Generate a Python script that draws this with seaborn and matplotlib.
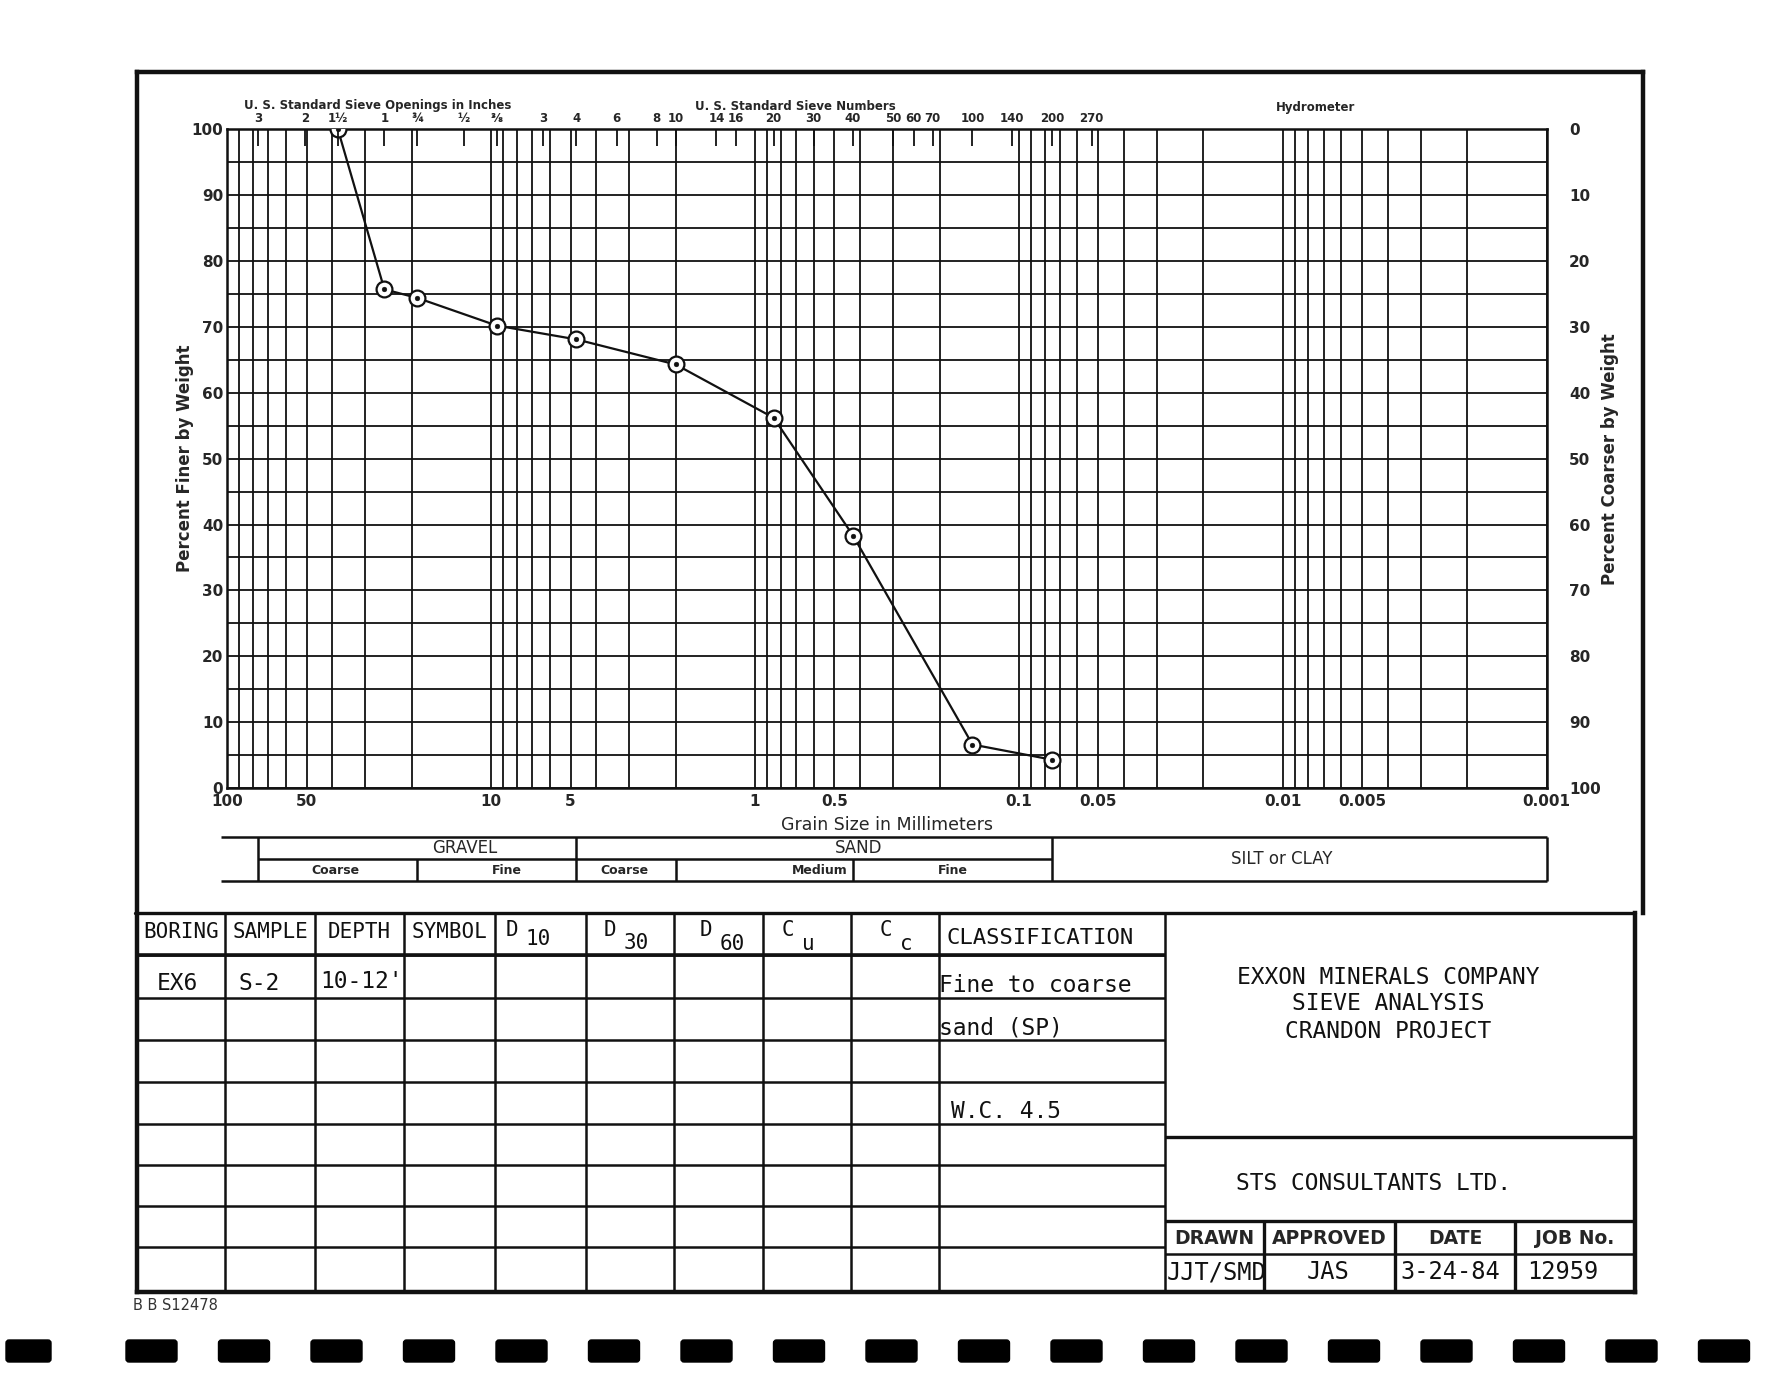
"""
Curva granulométrica (sieve analysis) — Exxon Minerals / Crandon Project.
Recria a folha de ensaio do STS Consultants com o quadro e a tabela.
"""

import matplotlib

matplotlib.use("Agg")

import matplotlib.pyplot as plt
import pandas as pd
import seaborn as sns
from matplotlib.patches import FancyBboxPatch
from matplotlib.ticker import LogLocator, NullFormatter, NullLocator

# ---- dados da curva (abertura em mm x % passante) ----
abertura_mm = [38.1, 25.4, 19.05, 9.525, 4.75, 2.0, 0.85, 0.425, 0.15, 0.075]
pct_passante = [100.0, 75.7, 74.4, 70.2, 68.1, 64.3, 56.2, 38.3, 6.6, 4.3]

# ---- eixos ----
x_ticks_mm = [100, 50, 10, 5, 1, 0.5, 0.1, 0.05, 0.01, 0.005, 0.001]
x_ticks_lbl = ["100", "50", "10", "5", "1", "0.5", "0.1", "0.05", "0.01", "0.005", "0.001"]
y_ticks = list(range(0, 101, 10))

peneiras_pol = ["3", "2", "1½", "1", "¾", "½", "⅜"]
peneiras_pol_mm = [76.2, 50.8, 38.1, 25.4, 19.05, 12.7, 9.525]
peneiras_num = ["3", "4", "6", "8", "10", "14", "16", "20", "30", "40",
                "50", "60", "70", "100", "140", "200", "270"]
peneiras_num_mm = [6.35, 4.75, 3.35, 2.36, 2.0, 1.4, 1.18, 0.85, 0.6, 0.425,
                   0.3, 0.25, 0.212, 0.15, 0.106, 0.075, 0.053]

# ---- faixa de classificação ----
faixa_lim_mm = [76.2, 19.05, 4.75, 2.0, 0.425, 0.075, 0.001]
faixa_principal = ["GRAVEL", "SAND", "SILT or CLAY"]
faixa_principal_mm = [12.6, 0.405, 0.0101]
faixa_sub = ["Coarse", "Fine", "Coarse", "Medium", "Fine"]
faixa_sub_mm = [38.8, 8.7, 3.12, 0.568, 0.178]

# ---- tabela ----
cabecalho = ["BORING", "SAMPLE", "DEPTH", "SYMBOL"]
amostra = ["EX6", "S-2", "10-12'"]
classificacao = ["Fine to coarse", "sand (SP)", "", "W.C. 4.5"]
titulo_folha = ["EXXON MINERALS COMPANY", "SIEVE ANALYSIS", "CRANDON PROJECT"]
consultor = "STS CONSULTANTS LTD."
carimbo_cab = ["DRAWN", "APPROVED", "DATE", "JOB No."]
carimbo_val = ["JJT/SMD", "JAS", "3-24-84", "12959"]

W, H = 1791, 1380
PRETO = "#111111"
FONTE_MONO = ["DejaVu Sans Mono"]


def caixa(x0, y0, x1, y1):
    """Retângulo em pixels (origem no topo) -> coordenadas da figura."""
    return [x0 / W, 1 - y1 / H, (x1 - x0) / W, (y1 - y0) / H]


sns.set_theme(style="white")
plt.rcParams["font.family"] = ["DejaVu Sans"]

fig = plt.figure(figsize=(W / 100, H / 100), dpi=100)
fig.patch.set_facecolor("white")

# folha (quadro, tabela, textos fixos) em pixels
pg = fig.add_axes([0, 0, 1, 1])
pg.set_xlim(0, W)
pg.set_ylim(H, 0)
pg.axis("off")

# ---- gráfico ----
ax = fig.add_axes(caixa(227.3, 129.3, 1546.7, 788))
ax.set_xscale("log")
ax.set_xlim(100, 0.001)
ax.set_ylim(0, 100)

df = pd.DataFrame({"mm": abertura_mm, "pct": pct_passante})
sns.lineplot(data=df, x="mm", y="pct", ax=ax, color=PRETO, lw=1.6, zorder=3)
sns.scatterplot(data=df, x="mm", y="pct", ax=ax, s=130, marker="o",
                facecolor="white", edgecolor=PRETO, linewidth=1.6, zorder=4)
sns.scatterplot(data=df, x="mm", y="pct", ax=ax, s=12, color=PRETO,
                edgecolor=PRETO, zorder=5)

ax.set_xticks(x_ticks_mm, labels=x_ticks_lbl)
ax.xaxis.set_minor_locator(LogLocator(base=10, subs=range(2, 10), numticks=100))
ax.xaxis.set_minor_formatter(NullFormatter())
ax.set_yticks(y_ticks)
ax.set_yticks(range(5, 100, 10), minor=True)
ax.grid(True, which="both", color=PRETO, lw=1.3)
ax.set_axisbelow(True)
ax.tick_params(which="both", length=0)
ax.tick_params(axis="x", pad=4, labelsize=11)
ax.tick_params(axis="y", pad=3, labelsize=11)
for t in ax.get_xticklabels() + ax.get_yticklabels():
    t.set_fontweight("bold")
ax.set_xlabel("")
ax.set_ylabel("Percent Finer by Weight", fontsize=12, fontweight="bold", labelpad=-2)
for s in ax.spines.values():
    s.set_color(PRETO)
    s.set_linewidth(1.8)

# peneiras no topo
ax_top = ax.twiny()
ax_top.set_xscale("log")
ax_top.set_xlim(100, 0.001)
ax_top.set_xticks(peneiras_pol_mm + peneiras_num_mm, labels=peneiras_pol + peneiras_num)
ax_top.xaxis.set_minor_locator(NullLocator())
ax_top.tick_params(axis="x", direction="in", length=12, width=1.3, color=PRETO,
                   pad=3, labelsize=8.5)
for t in ax_top.get_xticklabels():
    t.set_fontweight("bold")
ax_top.grid(False)

# escala da direita (% retido)
ax_r = ax.twinx()
ax_r.set_ylim(100, 0)
ax_r.set_yticks(y_ticks)
ax_r.tick_params(axis="y", length=0, pad=16, labelsize=11)
for t in ax_r.get_yticklabels():
    t.set_fontweight("bold")
ax_r.set_ylabel("Percent Coarser by Weight", fontsize=12, fontweight="bold", labelpad=0)
ax_r.grid(False)
for s in ax_r.spines.values():
    s.set_visible(False)
for s in ax_top.spines.values():
    s.set_visible(False)

pg.text(378, 106, "U. S. Standard Sieve Openings in Inches", ha="center", va="center",
        fontsize=8.5, fontweight="bold")
pg.text(795, 106, "U. S. Standard Sieve Numbers", ha="center", va="center",
        fontsize=8.5, fontweight="bold")
pg.text(1316, 107, "Hydrometer", ha="center", va="center", fontsize=8.5, fontweight="bold")
pg.text(887, 825, "Grain Size in Millimeters", ha="center", va="center", fontsize=12.5)

# ---- faixa GRAVEL / SAND / SILT ----
ax_b = fig.add_axes(caixa(227.3, 837, 1546.7, 881))
ax_b.set_xscale("log")
ax_b.set_xlim(100, 0.001)
ax_b.set_ylim(0, 2)
ax_b.axis("off")
kw = dict(color=PRETO, lw=1.8, clip_on=False)
ax_b.hlines([0, 2], 106, faixa_lim_mm[-1], **kw)
ax_b.hlines(1, faixa_lim_mm[0], faixa_lim_mm[-2], **kw)
ax_b.vlines([faixa_lim_mm[i] for i in (0, 2, 5, 6)], 0, 2, **kw)
ax_b.vlines([faixa_lim_mm[i] for i in (1, 3, 4)], 0, 1, **kw)
for nome, xm in zip(faixa_principal[:2], faixa_principal_mm[:2]):
    ax_b.text(xm, 1.5, nome, ha="center", va="center", fontsize=12)
ax_b.text(faixa_principal_mm[2], 1.0, faixa_principal[2], ha="center", va="center",
          fontsize=12)
for nome, xm in zip(faixa_sub, faixa_sub_mm):
    ax_b.text(xm, 0.48, nome, ha="center", va="center", fontsize=9, fontweight="bold")

# ---- quadro externo ----
moldura = dict(color=PRETO, lw=3.2, solid_capstyle="projecting")
pg.plot([137, 1643], [72, 72], **moldura)
pg.plot([137, 137], [72, 1292], **moldura)
pg.plot([1643, 1643], [72, 913], **moldura)
pg.plot([1635, 1635], [913, 1292], **moldura)
pg.plot([137, 1635], [1292, 1292], **moldura)
pg.plot([135, 1635], [913, 913], color=PRETO, lw=2.4)

# ---- tabela esquerda ----
col_x = [137, 225, 315, 404, 495, 586, 674, 763, 851, 939, 1165]
lin_y = [913, 955, 998, 1040, 1082, 1124, 1165, 1206, 1247, 1292]
pg.vlines(col_x[1:], 913, 1292, color=PRETO, lw=1.8)
pg.hlines(lin_y[1:-1], 137, 1165, color=PRETO, lw=1.8)
pg.hlines(lin_y[1], 137, 1165, color=PRETO, lw=2.6)

mono = dict(family=FONTE_MONO, color=PRETO)
for i, nome in enumerate(cabecalho):
    pg.text((col_x[i] + col_x[i + 1]) / 2, 932, nome, ha="center", va="center",
            fontsize=15, **mono)
# D10, D30, D60, Cu, Cc com índice rebaixado
for letra, indice, x0, dy in [("D", "10", 512, 9), ("D", "30", 610, 13),
                              ("D", "60", 706, 14), ("C", "u", 788, 14),
                              ("C", "c", 886, 14)]:
    pg.text(x0, 930, letra, ha="center", va="center", fontsize=15, **mono)
    pg.text(x0 + 14, 930 + dy, indice, ha="left", va="center", fontsize=15, **mono)
pg.text(947, 938, "CLASSIFICATION", ha="left", va="center", fontsize=16, **mono)

pg.text(177, 983, amostra[0], ha="center", va="center", fontsize=16.5, **mono)
pg.text(239, 983, amostra[1], ha="left", va="center", fontsize=16.5, **mono)
pg.text(320, 981, amostra[2], ha="left", va="center", fontsize=16.5, **mono)
for texto, yy in zip(classificacao, [985, 1028, 1069, 1112]):
    if texto:
        xx = 951 if texto.startswith("W") else 939
        pg.text(xx, yy, texto, ha="left", va="center", fontsize=16.5, **mono)

# ---- bloco da direita ----
pg.hlines([1137, 1221], 1165, 1635, color=PRETO, lw=2.4)
pg.hlines(1254, 1165, 1635, color=PRETO, lw=1.8)
pg.vlines([1264, 1395, 1515], 1221, 1292, color=PRETO, lw=2.4)
for texto, yy in zip(titulo_folha, [977, 1004, 1031]):
    pg.text(1388, yy, texto, ha="center", va="center", fontsize=16.5, **mono)
pg.text(1374, 1183, consultor, ha="center", va="center", fontsize=16.5, **mono)
for texto, xx in zip(carimbo_cab, [1214, 1329, 1455, 1575]):
    pg.text(xx, 1238, texto, ha="center", va="center", fontsize=13.5,
            family=["DejaVu Sans"], fontweight="bold")
for texto, xx, ha in zip(carimbo_val, [1167, 1328, 1400, 1527],
                         ["left", "center", "left", "left"]):
    pg.text(xx, 1272, texto, ha=ha, va="center", fontsize=17, **mono)

pg.text(133, 1305, "B B S12478", ha="left", va="center", fontsize=10.5,
        family=["DejaVu Sans"], color="#333333")

# marcas de perfuração no rodapé
for x0 in [6] + [126 + 92.5 * i for i in range(18)]:
    largura = 45 if x0 == 6 else 51
    pg.add_patch(FancyBboxPatch((x0, 1340), largura, 22,
                                boxstyle="round,pad=0,rounding_size=3",
                                fc="black", ec="black"))

fig.savefig("out.png", dpi=100, facecolor="white")
